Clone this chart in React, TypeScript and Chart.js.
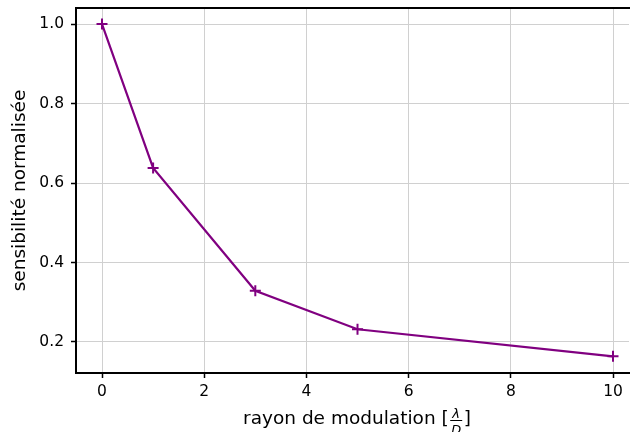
import { useEffect, useRef } from 'react';
import { Chart, registerables } from 'chart.js';

Chart.register(...registerables);

const radiusValues = [0, 1, 3, 5, 10];
const sensitivityValues = [1.0, 0.638, 0.329, 0.232, 0.164];
const xTickValues = [0, 2, 4, 6, 8, 10];
const yTickValues = [0.2, 0.4, 0.6, 0.8, 1.0];
const xLabelMain = 'rayon de modulation [';
const xLabelNum = 'λ';
const xLabelDen = 'D';
const xLabelEnd = ']';
const yLabel = 'sensibilité normalisée';

const FONT = 'DejaVu Sans';
const TITLE_SIZE = 18.5;
const TICK_SIZE = 15.5;

const framePlugin = {
  id: 'frameAndXLabel',
  afterDraw(chart: any) {
    const { ctx, chartArea } = chart;
    ctx.save();
    // top spine
    ctx.strokeStyle = '#000';
    ctx.lineWidth = 2;
    ctx.beginPath();
    ctx.moveTo(chartArea.left - 1, chartArea.top);
    ctx.lineTo(chartArea.right + 2, chartArea.top);
    ctx.stroke();

    // x label with fraction
    const center = 357;
    const baseline = 424;
    ctx.fillStyle = '#000';
    ctx.textBaseline = 'alphabetic';
    ctx.textAlign = 'left';
    ctx.font = `${TITLE_SIZE}px ${FONT}`;
    const w1 = ctx.measureText(xLabelMain).width;
    const w3 = ctx.measureText(xLabelEnd).width;
    ctx.font = `italic 13px ${FONT}`;
    const wn = ctx.measureText(xLabelNum).width;
    const wd = ctx.measureText(xLabelDen).width;
    const wf = Math.max(wn, wd) + 5;
    const total = w1 + wf + w3;
    const start = center - total / 2;
    ctx.font = `${TITLE_SIZE}px ${FONT}`;
    ctx.fillText(xLabelMain, start, baseline);
    ctx.fillText(xLabelEnd, start + w1 + wf, baseline);
    const fx = start + w1;
    ctx.font = `italic 13px ${FONT}`;
    ctx.textAlign = 'center';
    ctx.fillText(xLabelNum, fx + wf / 2, baseline - 6);
    ctx.fillText(xLabelDen, fx + wf / 2, baseline + 10);
    ctx.lineWidth = 1;
    ctx.beginPath();
    ctx.moveTo(fx + 1.5, baseline - 3.5);
    ctx.lineTo(fx + wf - 1.5, baseline - 3.5);
    ctx.stroke();
    ctx.restore();
  },
};

export default function App() {
  const ref = useRef<HTMLCanvasElement | null>(null);

  useEffect(() => {
    document.body.style.margin = '0';
    const canvas = ref.current;
    if (!canvas) return;
    const chart = new Chart(canvas, {
      type: 'line',
      data: {
        datasets: [
          {
            data: radiusValues.map((x, i) => ({ x, y: sensitivityValues[i] })),
            borderColor: '#800080',
            backgroundColor: '#800080',
            borderWidth: 2.2,
            pointStyle: 'cross',
            pointRadius: 5.5,
            pointBorderWidth: 2,
            pointBorderColor: '#800080',
            tension: 0,
            fill: false,
          },
        ],
      },
      options: {
        responsive: false,
        animation: false,
        devicePixelRatio: 1,
        layout: { autoPadding: false, padding: { top: 8, right: 1, left: 0, bottom: 0 } },
        plugins: {
          legend: { display: false },
          tooltip: { enabled: false },
        },
        scales: {
          x: {
            type: 'linear',
            min: -0.509,
            max: 10.313,
            afterFit: (s: any) => {
              s.height = 59;
              s.paddingLeft = 0;
              s.paddingRight = 0;
            },
            afterBuildTicks: (s: any) => {
              s.ticks = xTickValues.map((v) => ({ value: v }));
            },
            ticks: {
              color: '#000',
              font: { family: FONT, size: TICK_SIZE },
              padding: 5,
              maxRotation: 0,
              callback: (v: any) => String(v),
            },
            grid: {
              color: '#d0d0d0',
              lineWidth: 1,
              tickColor: '#000',
              tickLength: 5,
              tickWidth: 1.5,
            },
            border: { color: '#000', width: 2 },
            title: { display: false },
          },
          y: {
            type: 'linear',
            min: 0.122,
            max: 1.0403,
            afterFit: (s: any) => {
              s.width = 76;
              s.paddingTop = 0;
              s.paddingBottom = 0;
            },
            afterBuildTicks: (s: any) => {
              s.ticks = yTickValues.map((v) => ({ value: v }));
            },
            ticks: {
              color: '#000',
              font: { family: FONT, size: TICK_SIZE },
              padding: 7,
              callback: (v: any) => Number(v).toFixed(1),
            },
            grid: {
              color: '#d0d0d0',
              lineWidth: 1,
              tickColor: '#000',
              tickLength: 5,
              tickWidth: 1.5,
            },
            border: { color: '#000', width: 2 },
            title: {
              display: true,
              text: yLabel,
              color: '#000',
              font: { family: FONT, size: TITLE_SIZE },
              padding: { top: 9.5, bottom: 0 },
            },
          },
        },
      },
      plugins: [framePlugin],
    });
    return () => chart.destroy();
  }, []);

  return <canvas ref={ref} width={630} height={432} style={{ display: 'block' }} />;
}
